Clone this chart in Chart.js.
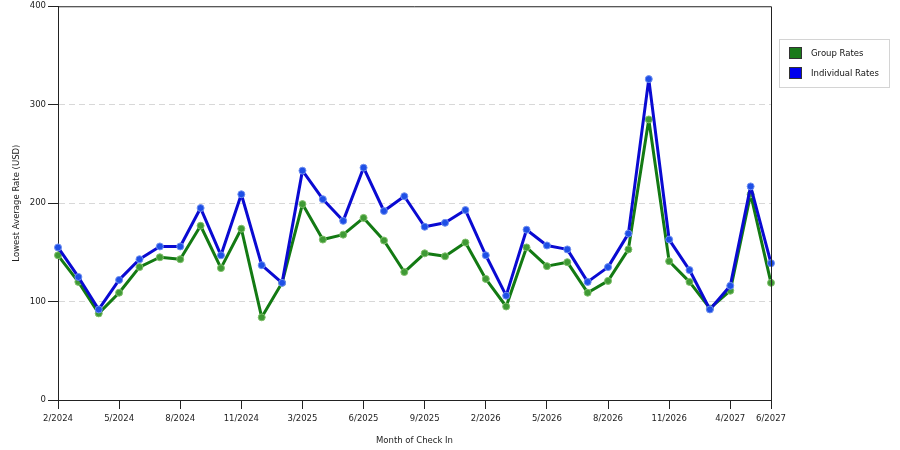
<!DOCTYPE html>
<html>
<head>
<meta charset="utf-8">
<script src="https://cdn.jsdelivr.net/npm/chart.js@4.4.0/dist/chart.umd.min.js"></script>
<style>
  html, body { margin: 0; padding: 0; background: #fff; }
  #wrap { width: 900px; height: 450px; }
</style>
</head>
<body>
<div id="wrap"><canvas id="rates" width="900" height="450"></canvas></div>
<script>
const months = [
    '2/2024', '3/2024', '4/2024', '5/2024', '6/2024', '7/2024', '8/2024', '9/2024', '10/2024',
    '11/2024', '12/2024', '1/2025', '3/2025', '4/2025', '5/2025', '6/2025', '7/2025', '8/2025',
    '9/2025', '10/2025', '12/2025', '2/2026', '3/2026', '4/2026', '5/2026', '6/2026', '7/2026',
    '8/2026', '9/2026', '10/2026', '11/2026', '12/2026', '2/2027', '4/2027', '5/2027', '6/2027'
];
const groupRates = [
    147, 120, 88, 109, 135, 145, 143, 177, 134, 174, 84, 119,
    199, 163, 168, 185, 162, 130, 149, 146, 160, 123, 95, 155,
    136, 140, 109, 121, 153, 285, 141, 120, 93, 111, 209, 119
];
const individualRates = [
    155, 125, 92, 122, 143, 156, 156, 195, 147, 209, 137, 119,
    233, 204, 182, 236, 192, 207, 176, 180, 193, 147, 106, 173,
    157, 153, 120, 135, 169, 326, 163, 132, 92, 116, 217, 139
];
const yTicks = [0, 100, 200, 300, 400];

const font = { family: 'DejaVu Sans', size: 8.5 };

function shownTick(i) {
    return i % 3 === 0 || i === months.length - 1;
}

// frame around the plot + boxed legend on the right
const framePlugin = {
    id: 'frame',
    afterDraw: function (chart) {
        const ctx = chart.ctx;
        const a = chart.chartArea;
        ctx.save();
        ctx.strokeStyle = '#222';
        ctx.lineWidth = 1;
        ctx.beginPath();
        ctx.moveTo(a.left, a.top + 0.5);
        ctx.lineTo(a.right + 0.5, a.top + 0.5);
        ctx.lineTo(a.right + 0.5, a.bottom);
        ctx.stroke();

        // legend
        const lx = 779, ly = 39;
        ctx.strokeStyle = '#d4d4d4';
        ctx.strokeRect(lx + 0.5, ly + 0.5, 110, 48);
        ctx.font = font.size + 'px ' + font.family;
        ctx.textBaseline = 'middle';
        chart.data.datasets.forEach(function (ds, i) {
            const y = ly + 8 + i * 20;
            ctx.fillStyle = ds.legendColor;
            ctx.fillRect(lx + 10, y, 13, 12);
            ctx.strokeStyle = '#333';
            ctx.strokeRect(lx + 10.5, y + 0.5, 12, 11);
            ctx.fillStyle = '#111';
            ctx.fillText(ds.label, lx + 32, y + 7);
        });
        ctx.restore();
    }
};

new Chart(document.getElementById('rates'), {
    type: 'line',
    data: {
        labels: months,
        datasets: [{
            label: 'Group Rates',
            data: groupRates,
            borderColor: '#137a13',
            backgroundColor: '#3c9a3c',
            legendColor: '#1a7a1a',
            pointBackgroundColor: '#3f9a35',
            pointBorderColor: '#7fbf6a',
            pointBorderWidth: 1,
            pointRadius: 3.5,
            borderWidth: 3,
            borderJoinStyle: 'round',
            order: 1
        }, {
            label: 'Individual Rates',
            data: individualRates,
            borderColor: '#0a0ad2',
            backgroundColor: '#2255ee',
            legendColor: '#0000ee',
            pointBackgroundColor: '#1e4fe6',
            pointBorderColor: '#6f8ff0',
            pointBorderWidth: 1,
            pointRadius: 3.5,
            borderWidth: 3,
            borderJoinStyle: 'round',
            order: 0
        }]
    },
    options: {
        responsive: false,
        animation: false,
        layout: { padding: { left: 0, right: 129, top: 1, bottom: 0 } },
        plugins: {
            legend: { display: false },
            tooltip: { enabled: false }
        },
        scales: {
            x: {
                offset: false,
                border: { color: '#222', width: 1 },
                grid: {
                    drawOnChartArea: false,
                    tickLength: 9,
                    tickColor: function (c) { return shownTick(c.index) ? '#222' : 'rgba(0,0,0,0)'; }
                },
                ticks: {
                    autoSkip: false,
                    maxRotation: 0,
                    color: '#222',
                    font: font,
                    padding: 5,
                    callback: function (v, i) {
                        return shownTick(i) ? months[i] : '';
                    }
                },
                title: { display: true, text: 'Month of Check In', color: '#222', font: font, padding: { top: 2 } },
                afterFit: function (s) { s.height = 50; }
            },
            y: {
                min: 0,
                max: 400,
                afterBuildTicks: function (s) { s.ticks = yTicks.map(function (v) { return { value: v }; }); },
                border: { color: '#222', width: 1, dash: [6, 4] },
                grid: {
                    color: function (c) { return (c.tick && c.tick.value > 0 && c.tick.value < 400) ? '#d8d8d8' : 'rgba(0,0,0,0)'; },
                    tickColor: '#222',
                    tickLength: 10,
                    tickBorderDash: []
                },
                ticks: { color: '#222', font: { family: 'DejaVu Sans', size: 8.5, lineHeight: 1 }, padding: 2 },
                title: { display: true, text: 'Lowest Average Rate (USD)', color: '#222', font: font, padding: { top: 12, bottom: 4 } },
                afterFit: function (s) { s.width = 58; }
            }
        }
    },
    plugins: [framePlugin]
});
</script>
</body>
</html>
